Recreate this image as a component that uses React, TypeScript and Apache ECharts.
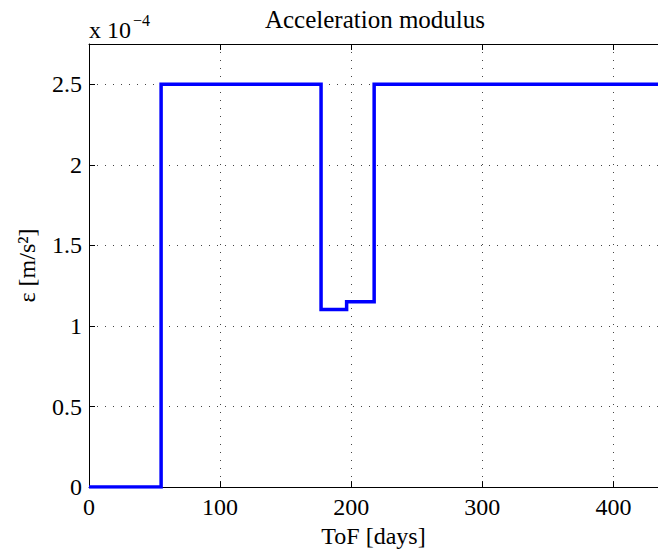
import React, { useEffect, useRef } from "react";
import * as echarts from "echarts";

// Step profile of the acceleration modulus (units of 1e-4 m/s^2)
const tofDays = [0, 55, 55, 177, 177, 196.5, 196.5, 217.5, 217.5, 434];
const accel = [0, 0, 2.5, 2.5, 1.103, 1.103, 1.15, 1.15, 2.5, 2.5];
const xTicks = [0, 100, 200, 300, 400];
const yTicks = [0, 0.5, 1, 1.5, 2, 2.5];

const FONT = "Times New Roman, Liberation Serif, Times, serif";
const FS = 24;

export default function App() {
  const ref = useRef<HTMLDivElement>(null);
  useEffect(() => {
    if (!ref.current) return;
    const chart = echarts.init(ref.current, undefined, { renderer: "svg" });
    const data = tofDays.map((t, i) => [t, accel[i]]);
    const grid = { left: 89, right: 0, top: 44, bottom: 62 };
    const gridLine = {
      show: true,
      lineStyle: { color: "#444", width: 1, type: [1, 7] as any },
    };
    chart.setOption({
      animation: false,
      backgroundColor: "#fff",
      textStyle: { fontFamily: FONT },
      grid: { ...grid, containLabel: false },
      xAxis: [
        {
          type: "value",
          min: 0,
          max: 434,
          interval: 100,
          axisLine: { show: true, onZero: false, lineStyle: { color: "#000", width: 1 } },
          axisTick: { show: true, inside: true, length: 6, lineStyle: { color: "#000" } },
          axisLabel: {
            show: true,
            margin: 8,
            color: "#000",
            fontFamily: FONT,
            fontSize: FS,
            showMaxLabel: false,
            formatter: (v: number) => (xTicks.includes(v) ? String(v) : ""),
          },
          splitLine: gridLine,
          name: "ToF [days]",
          nameLocation: "middle",
          nameGap: 34,
          nameTextStyle: { color: "#000", fontFamily: FONT, fontSize: FS },
        },
        {
          type: "value",
          position: "top",
          min: 0,
          max: 434,
          interval: 100,
          axisLine: { show: true, onZero: false, lineStyle: { color: "#000", width: 1 } },
          axisTick: { show: true, inside: true, length: 6, lineStyle: { color: "#000" } },
          axisLabel: { show: false },
          splitLine: { show: false },
        },
      ],
      yAxis: [
        {
          type: "value",
          min: 0,
          max: 2.75,
          interval: 0.5,
          axisLine: { show: true, onZero: false, lineStyle: { color: "#000", width: 1 } },
          axisTick: { show: true, inside: true, length: 6, lineStyle: { color: "#000" } },
          axisLabel: {
            show: true,
            margin: 7,
            color: "#000",
            fontFamily: FONT,
            fontSize: FS,
            showMaxLabel: false,
            formatter: (v: number) => (yTicks.includes(v) ? String(v) : ""),
          },
          splitLine: gridLine,
          name: "ε [m/s²]",
          nameLocation: "middle",
          nameRotate: 90,
          nameGap: 50,
          nameTextStyle: { color: "#000", fontFamily: FONT, fontSize: FS },
        },
      ],
      graphic: [
        {
          type: "text",
          x: 375,
          y: 19,
          style: {
            text: "Acceleration modulus",
            fontFamily: FONT,
            fontSize: 25,
            fill: "#000",
            textAlign: "center",
            textVerticalAlign: "middle",
          },
        },
        {
          type: "text",
          x: 89,
          y: 42,
          style: {
            text: "x 10",
            fontFamily: FONT,
            fontSize: FS,
            fill: "#000",
            textAlign: "left",
            textVerticalAlign: "bottom",
          },
        },
        {
          type: "text",
          x: 133,
          y: 28,
          style: {
            text: "−4",
            fontFamily: FONT,
            fontSize: 16,
            fill: "#000",
            textAlign: "left",
            textVerticalAlign: "bottom",
          },
        },
      ],
      series: [
        {
          type: "line",
          data,
          showSymbol: false,
          symbol: "none",
          clip: true,
          lineStyle: { color: "#0000ff", width: 3.5, join: "miter" },
          z: 5,
        },
      ],
    });
    return () => chart.dispose();
  }, []);
  return (
    <div
      ref={ref}
      style={{ position: "fixed", left: 0, top: 0, width: 658, height: 553 }}
    />
  );
}
